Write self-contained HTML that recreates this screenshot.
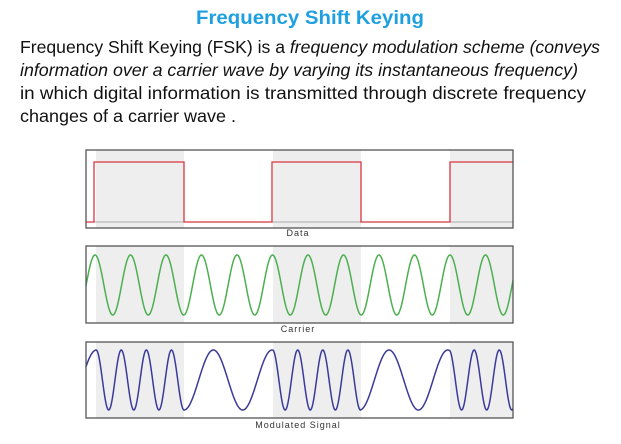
<!DOCTYPE html>
<html><head><meta charset="utf-8"><style>html,body{margin:0;padding:0;background:#fff;width:621px;height:444px;overflow:hidden}</style></head>
<body>
<svg id="s" width="621" height="444" xmlns="http://www.w3.org/2000/svg" font-family="Liberation Sans, sans-serif">
<text x="310" y="24" text-anchor="middle" font-size="19" font-weight="bold" fill="#1ea0e0" textLength="228" lengthAdjust="spacingAndGlyphs">Frequency Shift Keying</text>
<g font-size="17.5" fill="#111">
<text x="20" y="53" textLength="580" lengthAdjust="spacingAndGlyphs">Frequency Shift Keying (FSK) is a <tspan font-style="italic">frequency modulation scheme (conveys</tspan></text>
<text x="20" y="76" font-style="italic" textLength="558" lengthAdjust="spacingAndGlyphs">information over a carrier wave by varying its instantaneous frequency)</text>
<text x="20" y="99" textLength="566" lengthAdjust="spacingAndGlyphs">in which digital information is transmitted through discrete frequency</text>
<text x="20" y="122" textLength="216" lengthAdjust="spacingAndGlyphs">changes of a carrier wave .</text>
</g>
<g id="panels"></g>
<g font-size="9" fill="#333" text-anchor="middle" letter-spacing="1">
<text x="298" y="236">Data</text>
<text x="298" y="332">Carrier</text>
<text x="298" y="428">Modulated Signal</text>
</g>
</svg>
<script>
var g=document.getElementById('panels'),h='';
var panels=[[150,228],[246,323],[342,418]];
panels.forEach(function(p){
 h+='<rect x="86" y="'+p[0]+'" width="427" height="'+(p[1]-p[0])+'" fill="#fff"/>';
 [[96,184],[273,361],[450,513]].forEach(function(r){h+='<rect x="'+r[0]+'" y="'+p[0]+'" width="'+(r[1]-r[0])+'" height="'+(p[1]-p[0])+'" fill="#eeeeee"/>';});
});
// data
h+='<line x1="86" y1="222" x2="513" y2="222" stroke="#aaa" stroke-width="1"/>';
h+='<path d="M86 222H94V162H184V222H272V162H361V222H450V162H513" fill="none" stroke="#d9363e" stroke-width="1.3"/>';
// carrier
var d='';for(var x=86;x<=513;x+=0.5){var y=285-30*Math.cos(2*Math.PI*(x-95)/35.5);d+=(x==86?'M':'L')+x+' '+y.toFixed(2);}
h+='<path d="'+d+'" fill="none" stroke="#4caf50" stroke-width="1.5"/>';
// modulated: phase continuous, trough at 184
var bounds=[96,184,273,361,450,540];var hi=2*Math.PI/25.1,lo=2*Math.PI/58.7;
function w(x){return (x<96)||(x>=184&&x<273)||(x>=361&&x<450)?lo:hi;}
// integrate from 184 backwards/forwards
var ph={};var d2='',pts=[];var phase=Math.PI;var step=0.5;
var arr=[];for(var x=184;x>=86;x-=step){arr.unshift([x,phase]);phase-=w(x-step/2)*step;}
phase=Math.PI;for(var x=184+step;x<=513;x+=step){phase+=w(x-step/2)*step;arr.push([x,phase]);}
arr.forEach(function(a,i){d2+=(i?'L':'M')+a[0]+' '+(380-30*Math.cos(a[1])).toFixed(2);});
h+='<path d="'+d2+'" fill="none" stroke="#3a3a9a" stroke-width="1.5"/>';
panels.forEach(function(p){h+='<rect x="86" y="'+p[0]+'" width="427" height="'+(p[1]-p[0])+'" fill="none" stroke="#555" stroke-width="1.3"/>';});
g.innerHTML=h;
</script>
</body></html>
